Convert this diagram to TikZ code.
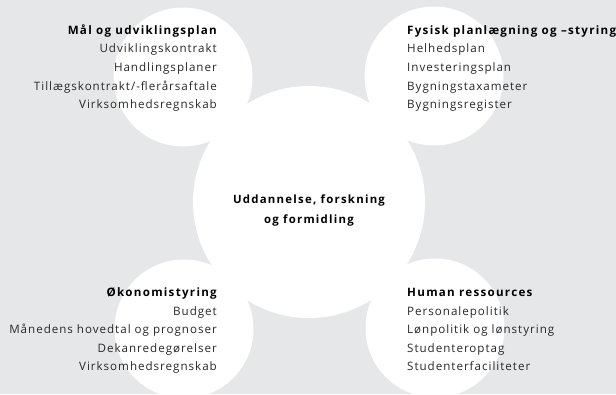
\documentclass[tikz,border=0pt]{standalone}
\usepackage{fontspec}
\setmainfont{Open Sans}[LetterSpace=8.5,BoldFeatures={LetterSpace=11}]
\definecolor{bggray}{RGB}{230,231,233}
\definecolor{bodytext}{RGB}{40,40,40}
\tikzset{
  blob/.style={fill=white},
  area/.style={font=\fontsize{11.6}{18.6}\selectfont, text=bodytext, inner sep=0pt},
  core/.style={font=\fontsize{11.4}{20}\selectfont\bfseries, align=center, inner sep=0pt},
}
\newcommand{\areahead}[1]{{\color{black}\bfseries #1}}
\begin{document}
\begin{tikzpicture}[x=1pt,y=-1pt]
\useasboundingbox (0,0) rectangle (616,394);
\clip (0,0) rectangle (616,394);
\fill[bggray] (0,0) rectangle (616,394);
% white circles
\fill[blob] (309,202) circle[radius=116pt];
\fill[blob] (183,77) circle[radius=69.5pt];
\fill[blob] (434,76) circle[radius=69.5pt];
\fill[blob] (184,329) circle[radius=69.5pt];
\fill[blob] (435,328) circle[radius=69.5pt];
% texts (base = last line)
\node[core, anchor=base] (core) at (309,223.3) {Uddannelse, forskning\\og formidling};
\node[area, align=right, anchor=base east] (plan) at (217,108.7) {\areahead{Mål og udviklingsplan}\\Udviklingskontrakt\\Handlingsplaner\\Tillægskontrakt/-flerårsaftale\\Virksomhedsregnskab};
\node[area, align=left, anchor=base west] (fysisk) at (407,108.7) {\areahead{Fysisk planlægning og –styring}\\Helhedsplan\\Investeringsplan\\Bygningstaxameter\\Bygningsregister};
\node[area, align=right, anchor=base east] (oekonomi) at (217,370.9) {\areahead{Økonomistyring}\\Budget\\Månedens hovedtal og prognoser\\Dekanredegørelser\\Virksomhedsregnskab};
\node[area, align=left, anchor=base west] (hr) at (407,370.9) {\areahead{Human ressources}\\Personalepolitik\\Lønpolitik og lønstyring\\Studenteroptag\\Studenterfaciliteter};
\end{tikzpicture}
\end{document}
